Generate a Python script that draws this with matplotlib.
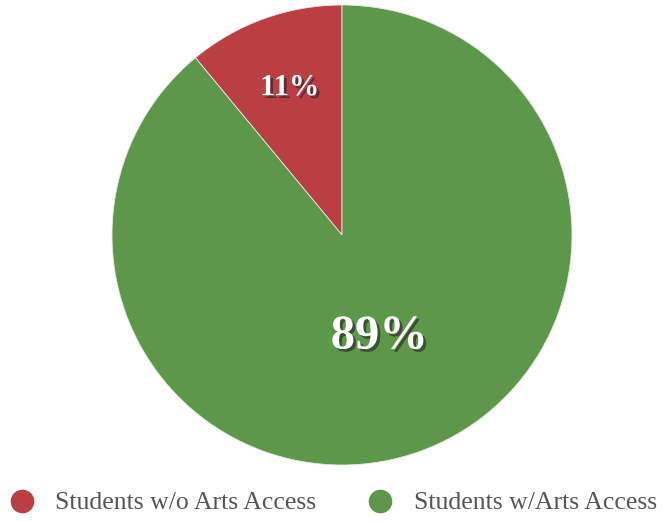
import matplotlib.pyplot as plt
import matplotlib.patheffects as pe
from matplotlib.lines import Line2D
import numpy as np

labels = ['Students w/o Arts Access', 'Students w/Arts Access']
values = [11, 89]
colors = ['#B93F43', '#5D9749']
pct_dist = [0.67, 0.48]  # label distance from centre for each slice
pct_size = [22, 35]

plt.rcParams['font.family'] = ['Liberation Serif', 'DejaVu Serif']

fig = plt.figure(figsize=(6.65, 5.22), dpi=100)
W, H = 665, 522
ax = fig.add_axes([112 / W, 57 / H, 460 / W, 460 / H])

wedges, _ = ax.pie(values, colors=colors, startangle=90, counterclock=True,
                   radius=1, wedgeprops=dict(edgecolor='#e8e8e8', linewidth=0.6))
ax.set_xlim(-1, 1)
ax.set_ylim(-1, 1)
ax.set_aspect('equal')
ax.axis('off')

total = sum(values)
for w, v, d, s in zip(wedges, values, pct_dist, pct_size):
    mid = np.deg2rad((w.theta1 + w.theta2) / 2)
    t = ax.text(d * np.cos(mid), d * np.sin(mid) + 0.01, f'{round(100 * v / total)}%',
                ha='center', va='center', color='white', fontsize=s, fontweight='bold')
    t.set_path_effects([pe.withSimplePatchShadow(offset=(2, -2), shadow_rgbFace='#222222', alpha=0.6)])

handles = [Line2D([], [], marker='o', linestyle='none', markersize=16,
                  markerfacecolor=c, markeredgecolor=c) for c in colors]
fig.legend(handles, labels, loc='center left', bbox_to_anchor=(-4 / W, 19 / H),
           ncol=2, frameon=False, fontsize=18.5, labelcolor='#555555',
           handlelength=2.0, handletextpad=0.3, columnspacing=1.5,
           borderaxespad=0, borderpad=0)

fig.savefig('out.png', dpi=100)
